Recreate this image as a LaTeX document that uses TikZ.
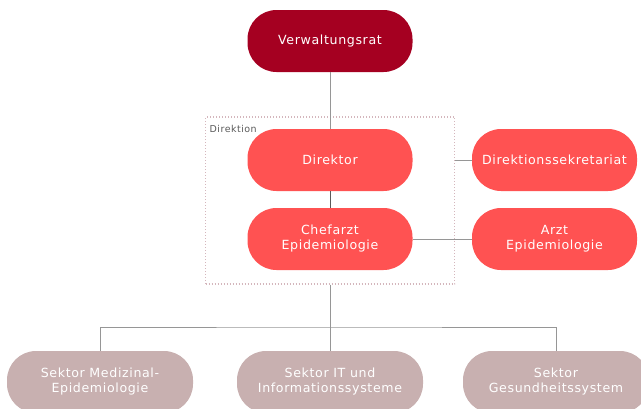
\documentclass[tikz,border=0pt]{standalone}
\usepackage{fontspec}
\setmainfont{DejaVu Sans}[LetterSpace=5]

\definecolor{ratred}{RGB}{165,0,33}
\definecolor{boxred}{RGB}{255,82,82}
\definecolor{sektor}{RGB}{200,176,176}
\definecolor{linegray}{RGB}{150,150,150}
\definecolor{darkline}{RGB}{90,90,90}
\definecolor{dotrose}{RGB}{212,182,188}

\tikzset{
  orgbox/.style={rounded corners=29pt, minimum width=165pt, minimum height=62pt,
    align=center, text=white, font=\fontsize{12.6}{15}\selectfont},
  rat/.style={orgbox, fill=ratred},
  stab/.style={orgbox, fill=boxred},
  sektorbox/.style={orgbox, fill=sektor, minimum width=186pt},
  conn/.style={draw=linegray, line width=0.9pt},
}

\begin{document}
\begin{tikzpicture}[x=1pt,y=-1pt]
                \useasboundingbox (0,0) rectangle (641,408);
                \clip (0,0) rectangle (641,408);
                \node[draw=dotrose, line width=1.2pt, dash pattern=on 1pt off 2pt,
                      minimum width=249pt, minimum height=167pt] (direktion) at (330,200.5) {};
                \node[anchor=north west, inner sep=0pt, text=darkline,
                      font=\fontsize{9.5}{11}\selectfont] (direktionlabel) at (209.5,125.5) {Direktion};
                \node[rat] (verwaltungsrat) at (330,41) {Verwaltungsrat};
                \node[stab] (direktor) at (330,160) {Direktor};
                \node[stab] (chefarzt) at (330,239) {Chefarzt\\Epidemiologie};
                \node[stab] (sekretariat) at (554.5,160) {Direktionssekretariat};
                \node[stab] (arzt) at (554.5,239) {Arzt\\Epidemiologie};
                \node[sektorbox] (sektormed) at (100,382) {Sektor Medizinal-\\Epidemiologie};
                \node[sektorbox] (sektorit) at (330,382) {Sektor IT und\\Informationssysteme};
                \node[sektorbox] (sektorges) at (556,382) {Sektor\\Gesundheitssystem};
                \coordinate (verteiler) at (330,327);
                \draw[conn] (verwaltungsrat) -- (direktor);
                \draw[conn, draw=darkline] (direktor) -- (chefarzt);
                \draw[conn] (direktion.east |- sekretariat) -- (sekretariat);
                \draw[conn] (chefarzt) -- (arzt);
                \draw[conn] (direktion) -- (sektorit);
                \draw[conn] (sektormed) |- (verteiler) -| (sektorges);
            \end{tikzpicture}
\end{document}
